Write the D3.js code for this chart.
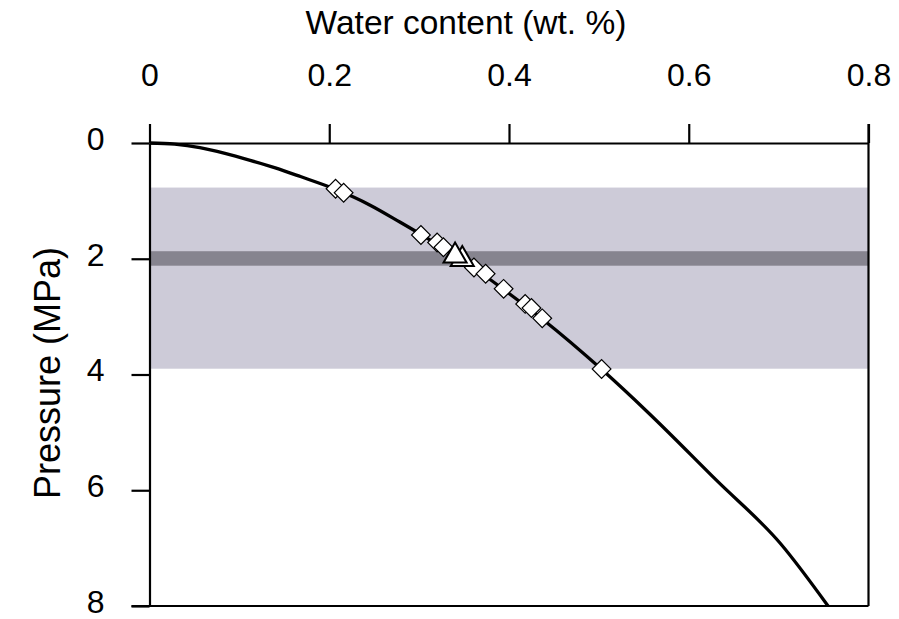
<!DOCTYPE html>
<html>
<head>
<meta charset="utf-8">
<script src="https://cdn.jsdelivr.net/npm/d3@7"></script>
<style>
  html, body { margin: 0; padding: 0; background: #fff; }
  svg { display: block; }
  text { font-family: "Liberation Sans", Arial, Helvetica, sans-serif; fill: #000; }
</style>
</head>
<body>
<svg id="chart" width="899" height="619"></svg>
<script>
// Water content vs. pressure curve (x = wt. %, y = MPa, pressure increasing downward)
const curveWater    = [0, 0.028, 0.056, 0.084, 0.112, 0.14, 0.168, 0.207, 0.245, 0.279, 0.302, 0.327, 0.361, 0.394, 0.437, 0.503, 0.555, 0.631, 0.702, 0.755];
const curvePressure = [0, 0.02, 0.08, 0.18, 0.30, 0.43, 0.58, 0.80, 1.07, 1.37, 1.58, 1.82, 2.16, 2.53, 3.04, 3.91, 4.66, 5.83, 6.92, 8.00];

// Measured samples (diamonds)
const sampleWater    = [0.207, 0.216, 0.302, 0.320, 0.327, 0.361, 0.374, 0.394, 0.418, 0.425, 0.437, 0.503];
const samplePressure = [0.79, 0.86, 1.59, 1.72, 1.80, 2.15, 2.26, 2.52, 2.78, 2.85, 3.03, 3.905];

// Highlighted samples (triangles), back one first
const triWater    = [0.348, 0.340];
const triPressure = [2.01, 1.95];

// Pressure ranges shown as horizontal bands
const bandLight = [0.77, 3.90];
const bandDark  = [1.87, 2.12];

const xTicks = [0, 0.2, 0.4, 0.6, 0.8];
const yTicks = [0, 2, 4, 6, 8];

const svg = d3.select("#chart");
const plotLeft = 149.5, plotRight = 868.5, plotTop = 143, plotBottom = 606;

const x = d3.scaleLinear().domain([0, 0.8]).range([plotLeft, plotRight]);
const y = d3.scaleLinear().domain([0, 8]).range([plotTop, plotBottom]);

// bands
svg.append("rect")
  .attr("x", x(0)).attr("width", x(0.8) - x(0))
  .attr("y", y(bandLight[0])).attr("height", y(bandLight[1]) - y(bandLight[0]))
  .attr("fill", "#cdcbd8");
svg.append("rect")
  .attr("x", x(0)).attr("width", x(0.8) - x(0))
  .attr("y", y(bandDark[0])).attr("height", y(bandDark[1]) - y(bandDark[0]))
  .attr("fill", "#86848f");

// axes
const xAxis = d3.axisTop(x).tickValues(xTicks).tickSize(19).tickSizeOuter(0)
  .tickFormat(d => d === 0 ? "0" : d3.format(".1f")(d));
const gx = svg.append("g").attr("transform", `translate(0,${plotTop})`).call(xAxis);
gx.selectAll("text").attr("y", -57).attr("dy", 0).style("font-size", "32px");

const yAxis = d3.axisLeft(y).tickValues(yTicks).tickSize(18).tickSizeOuter(0);
const gy = svg.append("g").attr("transform", `translate(${plotLeft},0)`).call(yAxis);
gy.selectAll("text").attr("x", -45).attr("dy", "0.2em").style("font-size", "32px");

[gx, gy].forEach(g => {
  g.selectAll("line, path").attr("stroke", "#000").attr("stroke-width", 2.2);
  g.attr("font-family", null).attr("font-size", null);
});

// right and bottom frame
svg.append("line").attr("x1", plotRight).attr("x2", plotRight).attr("y1", plotTop - 19).attr("y2", plotBottom)
  .attr("stroke", "#000").attr("stroke-width", 2.2);
svg.append("line").attr("x1", plotLeft - 18).attr("x2", plotRight).attr("y1", plotBottom).attr("y2", plotBottom)
  .attr("stroke", "#000").attr("stroke-width", 2.2);

// curve
const curvePts = curveWater.map((w, i) => [w, curvePressure[i]]);
svg.append("path")
  .datum(curvePts)
  .attr("fill", "none").attr("stroke", "#000").attr("stroke-width", 3.3)
  .attr("stroke-linejoin", "round")
  .attr("d", d3.line().x(d => x(d[0])).y(d => y(d[1])).curve(d3.curveMonotoneX));

// diamonds
const diamond = d3.symbol().type(d3.symbolSquare).size(175);
svg.append("g").selectAll("path")
  .data(sampleWater.map((w, i) => [w, samplePressure[i]]))
  .join("path")
  .attr("d", diamond)
  .attr("transform", d => `translate(${x(d[0])},${y(d[1])}) rotate(45)`)
  .attr("fill", "#fff").attr("stroke", "#000").attr("stroke-width", 1.2);

// triangles
const tri = d3.symbol().type(d3.symbolTriangle).size(230);
svg.append("g").selectAll("path")
  .data(triWater.map((w, i) => [w, triPressure[i]]))
  .join("path")
  .attr("d", tri)
  .attr("transform", d => `translate(${x(d[0])},${y(d[1])})`)
  .attr("fill", "#fff").attr("stroke", "#000").attr("stroke-width", 2);

// axis titles
svg.append("text")
  .attr("x", 466).attr("y", 34).attr("text-anchor", "middle")
  .style("font-size", "33.5px")
  .text("Water content (wt. %)");
svg.append("text")
  .attr("transform", "translate(60,373) rotate(-90)")
  .attr("text-anchor", "middle")
  .style("font-size", "36px")
  .text("Pressure (MPa)");
</script>
</body>
</html>
